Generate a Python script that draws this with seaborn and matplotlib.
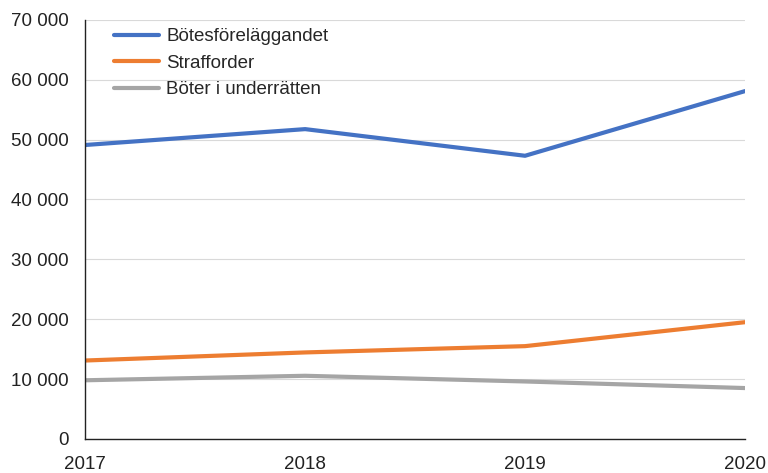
import pandas as pd
import matplotlib
matplotlib.use("Agg")
import matplotlib.pyplot as plt
import seaborn as sns
from matplotlib.ticker import FuncFormatter

years = [2017, 2018, 2019, 2020]
botesforelaggande = [49100, 51750, 47300, 58100]
strafforder = [13100, 14450, 15500, 19500]
boter_underratten = [9800, 10550, 9600, 8500]

series = ["Bötesföreläggandet", "Strafforder", "Böter i underrätten"]
colors = ["#4472C4", "#ED7D31", "#A5A5A5"]

df = pd.DataFrame({
    "year": years * 3,
    "value": botesforelaggande + strafforder + boter_underratten,
    "serie": [s for s in series for _ in years],
})

sns.set_style("white")
plt.rcParams["font.family"] = ["Liberation Sans", "DejaVu Sans"]

fig = plt.figure(figsize=(7.68, 4.73), dpi=100)
ax = fig.add_axes([0.111, 0.072, 0.859, 0.886])

sns.lineplot(data=df, x="year", y="value", hue="serie", hue_order=series,
             palette=colors, linewidth=3, ax=ax)

ax.set_xlim(2017, 2020)
ax.set_ylim(0, 70000)
ax.set_xticks(years)
ax.set_yticks(range(0, 70001, 10000))
ax.yaxis.set_major_formatter(FuncFormatter(lambda v, p: f"{int(v):,}".replace(",", " ")))
ax.grid(axis="y", color="#d9d9d9", linewidth=0.8)
ax.set_axisbelow(True)
ax.set_xlabel("")
ax.set_ylabel("")
ax.tick_params(axis="both", labelsize=13.5, length=0, colors="#222222")
ax.tick_params(axis="x", pad=12)
ax.tick_params(axis="y", pad=12)

for s in ["top", "right"]:
    ax.spines[s].set_visible(False)
for s in ["left", "bottom"]:
    ax.spines[s].set_color("#222222")
    ax.spines[s].set_linewidth(1)

leg = ax.legend(loc="upper left", bbox_to_anchor=(0.044, 0.98), frameon=False,
                fontsize=13.5, handlelength=2.4, handletextpad=0.38,
                labelspacing=0.5, borderaxespad=0, borderpad=0)

fig.savefig("out.png", dpi=100)
